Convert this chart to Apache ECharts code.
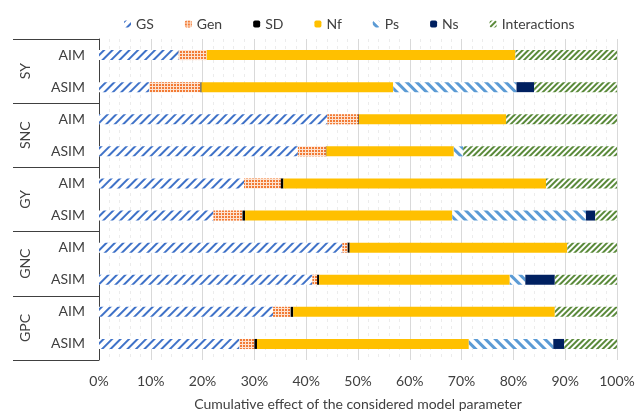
<!DOCTYPE html>
<html>
<head>
<meta charset="utf-8">
<script src="https://cdn.jsdelivr.net/npm/echarts@6/dist/echarts.min.js"></script>
<style>
  html, body { margin: 0; padding: 0; background: #fff; }
  #chart { width: 635px; height: 412px; }
</style>
</head>
<body>
<div id="chart"></div>
<script>
// Model variants per crop/trait group (top to bottom)
const groups = ['SY', 'SNC', 'GY', 'GNC', 'GPC'];
const models = ['AIM', 'ASIM'];
const rows = ['SY-AIM', 'SY-ASIM', 'SNC-AIM', 'SNC-ASIM', 'GY-AIM', 'GY-ASIM',
              'GNC-AIM', 'GNC-ASIM', 'GPC-AIM', 'GPC-ASIM'];

// Share (%) of each model parameter, in row order
const GS           = [15.4,  9.7, 44.1, 38.4, 28.0, 22.1, 47.0, 41.2, 33.6, 27.1];
const Gen          = [ 5.4,  9.9,  6.0,  5.4,  7.1,  5.6,  1.0,  0.9,  3.4,  2.9];
const SD           = [ 0.0,  0.2,  0.1,  0.1,  0.5,  0.5,  0.4,  0.4,  0.5,  0.5];
const Nf           = [59.6, 37.0, 28.4, 24.6, 50.7, 40.0, 42.0, 36.8, 50.5, 40.9];
const Ps           = [ 0.0, 23.8,  0.0,  1.8,  0.0, 25.8,  0.0,  3.0,  0.0, 16.3];
const Ns           = [ 0.0,  3.4,  0.0,  0.0,  0.0,  1.8,  0.0,  5.7,  0.0,  2.1];
const Interactions = [19.6, 16.0, 21.4, 29.7, 13.7,  4.2,  9.6, 12.0, 12.0, 10.2];

const xTicks = [0, 10, 20, 30, 40, 50, 60, 70, 80, 90, 100];

const FONT = 'Lato';
const TEXT = '#404040';

function stripes(color, thick, gap, angle) {
  return { symbol: 'rect', symbolSize: 1, dashArrayX: [1, 0], dashArrayY: [thick, gap],
           rotation: angle, color: color };
}

const seriesDefs = [
  { name: 'GS', data: GS, color: '#ffffff', decal: stripes('#3f72c8', 2, 4, -Math.PI / 4) },
  { name: 'Gen', data: Gen, color: '#fde2cf',
    decal: { symbol: 'rect', symbolSize: 1, dashArrayX: [2, 1], dashArrayY: [2, 1],
             color: '#f27b35' } },
  { name: 'SD', data: SD, color: '#000000' },
  { name: 'Nf', data: Nf, color: '#ffc000' },
  { name: 'Ps', data: Ps, color: '#ffffff', decal: stripes('#5b9bd5', 3, 4, Math.PI / 4) },
  { name: 'Ns', data: Ns, color: '#002060' },
  { name: 'Interactions', data: Interactions, color: '#ffffff', decal: stripes('#5a8a3a', 1.5, 1.5, -Math.PI / 4) }
];

const chart = echarts.init(document.getElementById('chart'), null, { renderer: 'canvas' });

chart.setOption({
  animation: false,
  textStyle: { fontFamily: FONT, color: TEXT },
  legend: {
    top: 12,
    left: 119,
    itemWidth: 7,
    itemHeight: 7,
    itemGap: 31,
    textStyle: { fontFamily: FONT, fontSize: 14, color: TEXT },
    data: seriesDefs.map(s => s.name)
  },
  grid: { left: 99, right: 18, top: 39, bottom: 52, containLabel: false, outerBoundsMode: 'none' },
  xAxis: {
    type: 'value',
    min: xTicks[0],
    max: xTicks[xTicks.length - 1],
    interval: 10,
    name: 'Cumulative effect of the considered model parameter',
    nameLocation: 'middle',
    nameGap: 37,
    nameTextStyle: { fontFamily: FONT, fontSize: 14, color: TEXT },
    axisLine: { show: false },
    axisTick: { show: false },
    axisLabel: { formatter: '{value}%', fontFamily: FONT, fontSize: 14, color: TEXT, margin: 14 },
    splitLine: { show: true, lineStyle: { color: '#d9d9d9', width: 1 } },
    minorTick: { show: false, splitNumber: 5 },
    minorSplitLine: { show: true, lineStyle: { color: '#ececec', type: [3, 4], width: 1 } }
  },
  yAxis: [
    {
      type: 'category',
      data: rows,
      inverse: true,
      position: 'left',
      axisLine: { show: true, lineStyle: { color: '#404040', width: 1 } },
      axisTick: { show: false },
      axisLabel: {
        formatter: v => v.split('-')[1],
        fontFamily: FONT, fontSize: 14, color: TEXT, margin: 14
      }
    },
    {
      type: 'category',
      data: groups,
      inverse: true,
      position: 'left',
      axisLine: { show: false },
      axisTick: { show: true, length: 86, lineStyle: { color: '#404040', width: 1 } },
      axisLabel: { rotate: 90, fontFamily: FONT, fontSize: 14, color: TEXT, margin: 67 }
    }
  ],
  series: seriesDefs.map(s => ({
    name: s.name,
    type: 'bar',
    stack: 'total',
    yAxisIndex: 0,
    barWidth: 10,
    data: s.data,
    itemStyle: Object.assign({ color: s.color }, s.decal ? { decal: s.decal } : {})
  }))
});
</script>
</body>
</html>
